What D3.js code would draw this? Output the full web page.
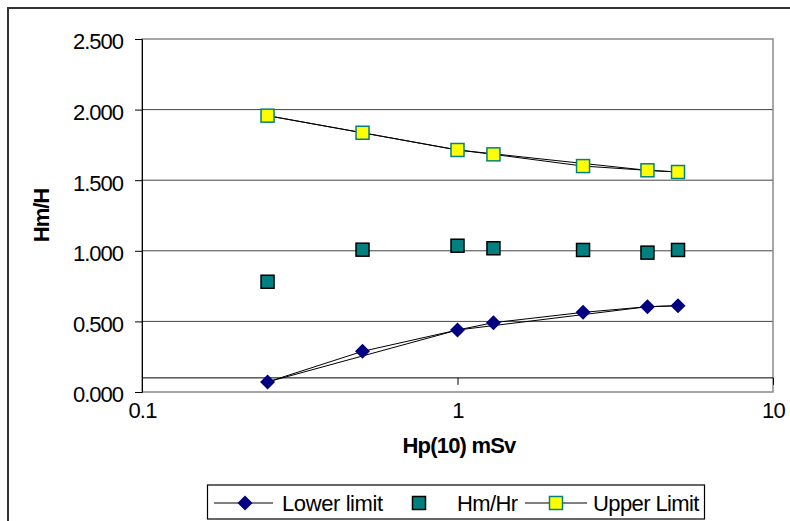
<!DOCTYPE html>
<html><head><meta charset="utf-8">
<script src="https://cdn.jsdelivr.net/npm/d3@7"></script>
<style>
html,body{margin:0;padding:0;background:#fff;}
svg{display:block;font-family:"Liberation Sans",Arial,sans-serif;}
</style></head>
<body><svg id="c" width="790" height="521"></svg>
<script>
const doseX = [0.25, 0.5, 1, 1.3, 2.5, 4, 5];
const lowerLimit = [0.071, 0.288, 0.439, 0.491, 0.564, 0.604, 0.611];
const hmHr = [0.781, 1.008, 1.036, 1.018, 1.006, 0.987, 1.006];
const upperLimit = [1.957, 1.836, 1.714, 1.683, 1.600, 1.570, 1.558];
const curveX = [0.25, 1, 4, 5];
const curveLower = [0.071, 0.439, 0.604, 0.611];
const curveUpper = [1.957, 1.714, 1.570, 1.558];
const yTicks = [0, 0.5, 1.0, 1.5, 2.0, 2.5];
const xTicks = [0.1, 1, 10];
const xCross = 0.1;
const seriesNames = ["Lower limit", "Hm/Hr", "Upper Limit"];

const svg = d3.select("#c");
const L = 142, R = 773, T = 39, B = 392;
const x = d3.scaleLog().domain([0.1, 10]).range([L, R]);
const y = d3.scaleLinear().domain([0, 2.5]).range([B, T]);

// outer frame
svg.append("path").attr("d", "M8,540 V8 H800").attr("fill", "none").attr("stroke", "#333").attr("stroke-width", 2);

// gridlines
svg.append("g").selectAll("line").data(yTicks.filter(v => v > 0 && v < 2.5)).join("line")
  .attr("x1", L).attr("x2", R).attr("y1", d => y(d)).attr("y2", d => y(d))
  .attr("stroke", "#444").attr("stroke-width", 1);

// plot border
svg.append("rect").attr("x", L).attr("y", T).attr("width", R - L).attr("height", B - T)
  .attr("fill", "none").attr("stroke", "#8a8a8a").attr("stroke-width", 1.5);

// y axis
const yAxis = d3.axisLeft(y).tickValues(yTicks).tickSize(7).tickPadding(12).tickFormat(d3.format(".3f"));
const gy = svg.append("g").attr("transform", `translate(${L},0)`).call(yAxis);
gy.select(".domain").attr("stroke", "#000");
gy.selectAll(".tick line").attr("stroke", "#000");
gy.selectAll("text").attr("font-size", 22).attr("letter-spacing", -1).attr("fill", "#000")
  .attr("font-family", "Liberation Sans, Arial, sans-serif").attr("dy", "0.45em");

// x axis crossing at 0.1
const xAxis = d3.axisBottom(x).tickValues(xTicks).tickSize(7).tickFormat(d => String(d));
const gx = svg.append("g").attr("transform", `translate(0,${y(xCross)})`).call(xAxis);
gx.select(".domain").attr("stroke", "#000").attr("d", `M${L},0H${R}`);
gx.selectAll(".tick line").attr("stroke", "#000");
gx.selectAll("text").attr("font-size", 22).attr("letter-spacing", -0.8).attr("fill", "#000")
  .attr("font-family", "Liberation Sans, Arial, sans-serif")
  .attr("y", B - y(xCross) + 10);

// axis titles
svg.append("text").attr("x", 459).attr("y", 453).attr("text-anchor", "middle")
  .attr("font-size", 22).attr("font-weight", "bold").attr("letter-spacing", -0.8).text("Hp(10) mSv");
svg.append("text").attr("transform", `translate(49,${(T + B) / 2}) rotate(-90)`).attr("text-anchor", "middle")
  .attr("font-size", 22).attr("font-weight", "bold").attr("letter-spacing", -1).text("Hm/H");

const line = d3.line().x(d => x(d[0])).y(d => y(d[1]));
const zip = (a, b) => a.map((v, i) => [v, b[i]]);

// extra limit curves
[curveLower, curveUpper].forEach(vals => {
  svg.append("path").datum(zip(curveX, vals)).attr("d", line)
    .attr("fill", "none").attr("stroke", "#000").attr("stroke-width", 1);
});
// series lines
[lowerLimit, upperLimit].forEach(vals => {
  svg.append("path").datum(zip(doseX, vals)).attr("d", line)
    .attr("fill", "none").attr("stroke", "#000").attr("stroke-width", 1);
});

const diamond = (cx, cy, s) => `M${cx},${cy - s}L${cx + s},${cy}L${cx},${cy + s}L${cx - s},${cy}Z`;
function drawDiamond(g, cx, cy) {
  g.append("path").attr("d", diamond(cx, cy, 7.5)).attr("fill", "#000080");
}
function drawSquare(g, cx, cy, fill, stroke) {
  g.append("rect").attr("x", cx - 6.5).attr("y", cy - 6.5).attr("width", 13).attr("height", 13)
    .attr("fill", fill).attr("stroke", stroke).attr("stroke-width", 1.5);
}
const gm = svg.append("g");
zip(doseX, lowerLimit).forEach(d => drawDiamond(gm, x(d[0]), y(d[1])));
zip(doseX, hmHr).forEach(d => drawSquare(gm, x(d[0]), y(d[1]), "#008080", "#000"));
zip(doseX, upperLimit).forEach(d => drawSquare(gm, x(d[0]), y(d[1]), "#ffff00", "#008080"));

// legend
const lg = svg.append("g");
lg.append("rect").attr("x", 207.5).attr("y", 485).attr("width", 497).attr("height", 34)
  .attr("fill", "#fff").attr("stroke", "#000").attr("stroke-width", 1.2);
const ly = 503;
lg.append("line").attr("x1", 214).attr("x2", 273).attr("y1", ly).attr("y2", ly).attr("stroke", "#000");
drawDiamond(lg, 245, ly);
lg.append("text").attr("x", 282).attr("y", ly + 8).attr("font-size", 22).attr("letter-spacing", -0.4).text(seriesNames[0]);
drawSquare(lg, 419, ly, "#008080", "#000");
lg.append("text").attr("x", 457).attr("y", ly + 8).attr("font-size", 22).attr("letter-spacing", -0.6).text(seriesNames[1]);
lg.append("line").attr("x1", 525).attr("x2", 587).attr("y1", ly).attr("y2", ly).attr("stroke", "#000");
drawSquare(lg, 556, ly, "#ffff00", "#008080");
lg.append("text").attr("x", 593).attr("y", ly + 8).attr("font-size", 22).attr("letter-spacing", -0.6).text(seriesNames[2]);
</script></body></html>
